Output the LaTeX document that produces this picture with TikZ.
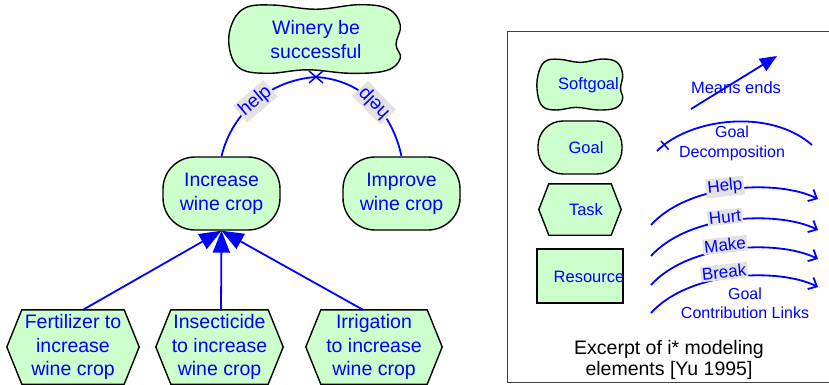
\documentclass[tikz,border=0pt]{standalone}
\usepackage{fontspec}
\setmainfont{Liberation Sans}
\usetikzlibrary{arrows.meta,backgrounds}

\definecolor{elemfill}{RGB}{204,255,204}
\definecolor{tagfill}{RGB}{226,226,226}

% hexagonal task outline drawn behind node #1, corners cut by #2
\newcommand{\taskoutline}[2]{%
  \begin{scope}[on background layer]
    \draw[shapeline] ([xshift=#2]#1.north west) -- ([xshift=-#2]#1.north east)
      -- (#1.east) -- ([xshift=-#2]#1.south east) -- ([xshift=#2]#1.south west)
      -- (#1.west) -- cycle;
  \end{scope}}

% wavy softgoal cloud, unit size; scaled by the enclosing scope
\newcommand{\cloudpath}{%
  plot[smooth cycle,tension=0.65] coordinates {
    (-0.5,-0.97) (0.0,-0.85) (0.5,-0.98) (0.84,-0.86) (0.98,-0.4)
    (0.93,0.15) (0.98,0.55) (0.82,0.9) (0.4,0.98) (-0.1,0.88)
    (-0.55,0.98) (-0.87,0.86) (-1.0,0.35) (-0.99,-0.35) (-0.83,-0.88)}}

\begin{document}
\begin{tikzpicture}[x=1pt,y=-1pt,
  shapeline/.style={draw=black,line width=1.4pt,fill=elemfill},
  bigtext/.style={text=blue,font=\fontsize{19.5}{24}\selectfont,align=center},
  smalltext/.style={text=blue,font=\fontsize{16.5}{19.5}\selectfont,align=center},
  goalbox/.style={shapeline,rounded corners=#1,inner sep=0pt},
  taskbox/.style={inner sep=0pt,minimum height=74pt},
  link/.style={draw=blue,line width=1.8pt},
  decomp/.style={link,-{Triangle[length=22pt,width=17pt]}},
  contrib/.style={link,-{Straight Barb[length=7pt,width=13pt]}},
  tag/.style={fill=tagfill,text=blue,inner sep=1.5pt,
    font=\fontsize{17}{19}\selectfont},
  bigtag/.style={tag,inner sep=2pt,font=\fontsize{19}{21}\selectfont},
]
\useasboundingbox (0,0) rectangle (829,385);

% ---------- goal model ----------
\begin{scope}[shift={(316,39)},xscale=86,yscale=35]
  \draw[shapeline] \cloudpath;
\end{scope}
\node[bigtext] (win) at (316,40) {Winery be\\successful};
\coordinate (winb) at (316,77);

\node[goalbox=32pt,bigtext,minimum width=117pt,minimum height=73pt]
  (inc) at (221.5,193.5) {Increase\\wine crop};
\node[goalbox=32pt,bigtext,minimum width=117pt,minimum height=73pt]
  (imp) at (401.5,193.5) {Improve\\wine crop};

% help links to the softgoal
\draw[link] (inc.north) .. controls (232,112) and (270,80) .. (winb)
  node[bigtag,pos=0.5,sloped,allow upside down] (helpa) {help};
\draw[link] (imp.north) .. controls (392,112) and (362,80) .. (winb)
  node[bigtag,pos=0.48,sloped,allow upside down] (helpb) {help};
\draw[link,line width=1.5pt] ([shift={(-7,-6)}]winb) -- ([shift={(7,6)}]winb)
  ([shift={(7,-6)}]winb) -- ([shift={(-7,6)}]winb);

% tasks
\node[taskbox,bigtext,minimum width=132pt,font=\fontsize{19.5}{23.5}\selectfont]
  (fert) at (73,347) {Fertilizer to\\increase\\wine crop};
\node[taskbox,bigtext,minimum width=127pt,font=\fontsize{19.5}{23.5}\selectfont]
  (inse) at (219.5,347) {Insecticide\\to increase\\wine crop};
\node[taskbox,bigtext,minimum width=136pt,font=\fontsize{19.5}{23.5}\selectfont]
  (irri) at (374,347) {Irrigation\\to increase\\wine crop};
\taskoutline{fert}{15pt}
\taskoutline{inse}{15pt}
\taskoutline{irri}{15pt}

% means-ends links
\draw[decomp] ([xshift=10pt]fert.north) -- (inc.south);
\draw[decomp] ([xshift=1.5pt]inse.north) -- (inc.south);
\draw[decomp] ([xshift=-11pt]irri.north) -- (inc.south);

% ---------- legend ----------
\draw[draw=black!75,line width=1pt] (507,32) rectangle (832,382);

\begin{scope}[shift={(580.5,84.5)},xscale=43,yscale=26]
  \draw[shapeline] \cloudpath;
\end{scope}
\node[smalltext] (lsoft) at (588.5,85) {Softgoal};

\node[goalbox=25pt,minimum width=84pt,minimum height=53pt] (lgoal) at (580,147.5) {};
\node[smalltext] (lgoalt) at (586,148) {Goal};

\node[taskbox,minimum width=82pt,minimum height=51pt] (ltask) at (580,209.5) {};
\taskoutline{ltask}{10pt}
\node[smalltext] (ltaskt) at (586,210) {Task};

\node[shapeline,minimum width=86pt,minimum height=54pt,inner sep=0pt] (lres) at (580,276) {};
\node[smalltext] (lrest) at (589,277) {Resource};

% means-ends sample
\coordinate (me1) at (691,109);
\coordinate (me2) at (777,56);
\draw[link,-{Triangle[length=17pt,width=14pt]}] (me1) -- (me2);
\node[smalltext] (met) at (736,88) {Means ends};

% decomposition sample
\coordinate (gd1) at (657,151);
\coordinate (gd2) at (812,145);
\draw[link] (gd1) .. controls (690,118) and (770,108) .. (gd2);
\coordinate (gdt) at (665,145.5);
\draw[link,line width=1.5pt] ([shift={(-4,-4.5)}]gdt) -- ([shift={(3.5,4)}]gdt);
\node[smalltext,font=\fontsize{16}{19.5}\selectfont] (gdtext) at (732,143.5) {Goal\\Decomposition};

% contribution samples
\foreach \dy/\nm/\lx in {0/Help/725,31/Hurt/725,60/Make/725,88/Break/724}{
  \coordinate (cs\nm) at (651,225+\dy);
  \coordinate (ce\nm) at (818,199+\dy);
  \draw[contrib] (cs\nm) .. controls (690,182+\dy) and (780,180+\dy) .. (ce\nm);
  \node[tag,rotate=6] (ct\nm) at (\lx,187+\dy-\dy/30) {\nm};
}
\node[smalltext,font=\fontsize{16}{19.5}\selectfont] (gctext) at (745,303.5) {Goal\\Contribution Links};

\node[align=center,font=\fontsize{19.5}{21}\selectfont] (caption) at (669,359.5)
  {Excerpt of i* modeling\\elements [Yu 1995]};
\end{tikzpicture}
\end{document}
